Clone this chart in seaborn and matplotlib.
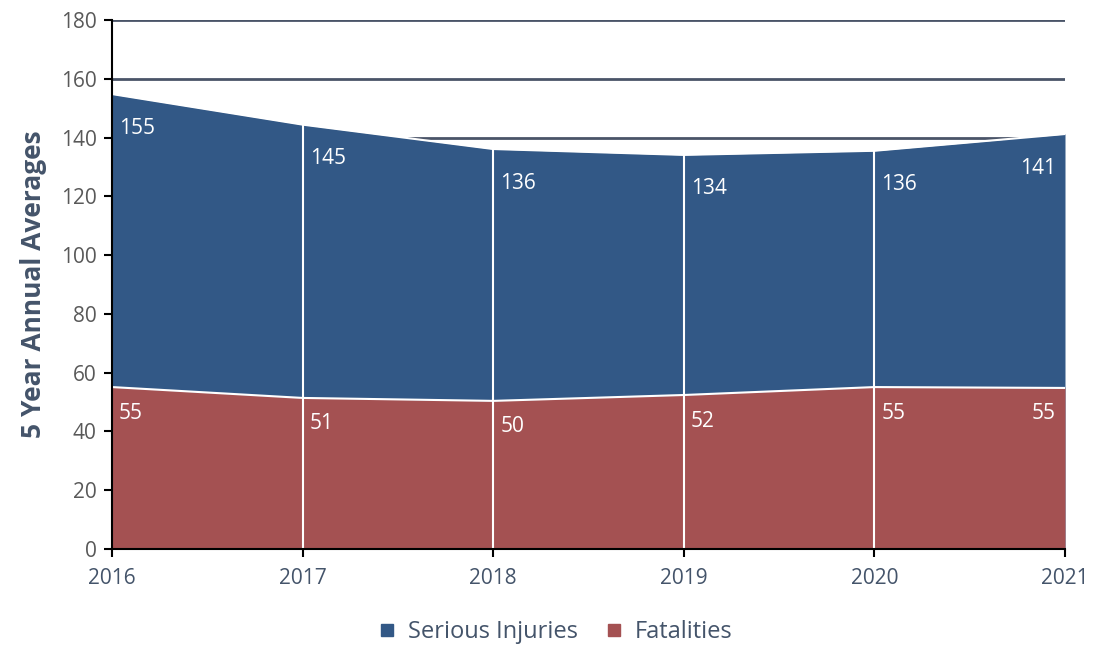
import matplotlib
matplotlib.use("Agg")
import matplotlib.pyplot as plt
import seaborn as sns
import pandas as pd
import numpy as np
from matplotlib.lines import Line2D

years = [2016, 2017, 2018, 2019, 2020, 2021]
serious_injuries = [155, 145, 136, 134, 136, 141]
serious_injuries_plot = [154.8, 144.4, 136.1, 134.1, 135.5, 141.2]
fatalities = [55, 51, 50, 52, 55, 55]
fatalities_plot = [55.1, 51.4, 50.4, 52.4, 55.1, 54.8]
yticks = [0, 20, 40, 60, 80, 100, 120, 140, 160, 180]

BLUE = "#325886"
RED = "#A45152"
GRID = "#4A5468"
SLATE = "#44546A"
GRAY = "#595959"

sns.set_theme(style="white")
plt.rcParams['font.family'] = ['Open Sans', 'DejaVu Sans']

df = pd.DataFrame({"year": years, "si": serious_injuries_plot, "fat": fatalities_plot})

fig = plt.figure(figsize=(10.95, 6.49), dpi=100)
ax = fig.add_axes([112/1095, 1-549/649, (1065-112)/1095, (549-20)/649])

for y in yticks[1:]:
    ax.axhline(y, color=GRID, lw=2, zorder=0)

ax.fill_between(df["year"], 0, df["si"], color=BLUE, zorder=1, lw=0)
sns.lineplot(data=df, x="year", y="si", color="white", lw=1.5, ax=ax, zorder=2)
ax.fill_between(df["year"], 0, df["fat"], color=RED, zorder=3, lw=0)
sns.lineplot(data=df, x="year", y="fat", color="white", lw=1.5, ax=ax, zorder=4)

for i, yr in enumerate(years[1:-1], start=1):
    ax.plot([yr, yr], [0, serious_injuries_plot[i]], color="white", lw=1.5, zorder=5)

for i, yr in enumerate(years):
    if i == len(years) - 1:
        ha, dx = "right", -9
    else:
        ha, dx = "left", 7
    ax.annotate(str(serious_injuries[i]), (yr, serious_injuries_plot[i]), xytext=(dx, -34),
                textcoords="offset pixels", ha=ha, va="center", color="white", fontsize=15, zorder=6)
    ax.annotate(str(fatalities[i]), (yr, fatalities_plot[i]), xytext=(dx, -26),
                textcoords="offset pixels", ha=ha, va="center", color="white", fontsize=15, zorder=6)

ax.set_xlim(2016, 2021)
ax.set_ylim(0, 180)
ax.set_yticks(yticks)
ax.set_xticks(years)
ax.set_xticklabels([str(y) for y in years], color=SLATE, fontsize=15)
ax.set_yticklabels([str(y) for y in yticks], color=GRAY, fontsize=15)
ax.tick_params(axis="both", which="both", length=6, width=1.5, color="black", direction="out",
               bottom=True, left=True)
ax.tick_params(axis="x", pad=8)
ax.tick_params(axis="y", pad=5)
ax.set_xlabel("")
ax.set_ylabel("5 Year Annual Averages", fontsize=19, fontweight="bold", color=SLATE, labelpad=10)

for s in ["top", "right"]:
    ax.spines[s].set_visible(False)
for s in ["left", "bottom"]:
    ax.spines[s].set_color("black")
    ax.spines[s].set_linewidth(1.5)
    ax.spines[s].set_zorder(10)

handles = [Line2D([], [], marker="s", linestyle="", color=BLUE, markersize=9),
           Line2D([], [], marker="s", linestyle="", color=RED, markersize=9)]
leg = fig.legend(handles, ["Serious Injuries", "Fatalities"], loc="center", bbox_to_anchor=(548/1095, 1-632/649),
                 ncol=2, frameon=False, fontsize=17, handletextpad=-0.1, columnspacing=0.5)
for t in leg.get_texts():
    t.set_color(SLATE)

fig.savefig("out.png", dpi=100)
